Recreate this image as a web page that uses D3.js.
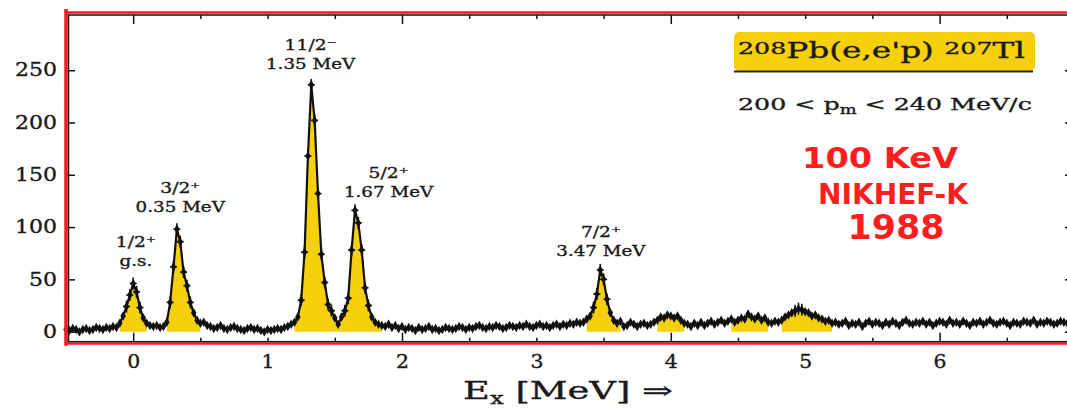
<!DOCTYPE html>
<html lang="en">
<head>
<meta charset="utf-8">
<title>208Pb(e,e'p) 207Tl</title>
<script src="https://d3js.org/d3.v7.min.js"></script>
<style>
  html, body { margin: 0; padding: 0; background: #fff; }
  svg { display: block; }
  .tick text { font-family: "DejaVu Serif", serif; font-size: 18px; fill: #1a1a1a; stroke: #1a1a1a; stroke-width: 0.35; }
  .tick line { stroke: #111; stroke-width: 1.5; }
  .lab { font-family: "DejaVu Serif", serif; fill: #1a1a1a; stroke: #1a1a1a; stroke-width: 0.35; }
  .hand { font-family: "DejaVu Sans", sans-serif; font-weight: bold; fill: #ff1e1e; }
</style>
</head>
<body>
<script>
// counts per 25 keV bin, first bin centred at -0.5 MeV
const eStart = -0.5;
const eStep = 0.025;
const counts = [
  2, 1, 3, 2, 0, 2, 3, 1, 2, 4, 3, 2, 4, 3, 5, 4,                       // -0.5 .. -0.125
  8, 15, 24, 35, 46, 38, 23, 13, 8, 6, 5, 6, 4, 5, 9, 28, 62, 98, 86, 57,
  44, 28, 18, 11, 8, 9, 6,                                               // -0.1 .. 0.55
  5, 3, 4, 6, 3, 2, 4, 5, 3, 2, 1, 3, 4, 2, 3, 1, 0, 2, 1, 2, 3, 2, 4, 5, 7, // 0.575 .. 1.175
  9, 14, 30, 76, 168, 236, 202, 132, 74, 47, 26, 20, 13, 7, 14, 20, 32, 78,
  116, 104, 78, 42, 25, 14, 9, 7, 6,                                     // 1.2 .. 1.85
  5, 7, 4, 6, 3, 5, 2, 4, 3, 1, 4, 2, 3, 5, 2, 3, 1, 2, 4, 3,
  2, 3, 5, 4, 2, 4, 3, 5, 6, 4, 3, 5, 4, 6, 5, 3, 4, 6, 5,               // 1.875 .. 2.825
  4, 6, 5, 7, 5, 4, 6, 7, 5, 6, 4, 6, 7, 5, 7, 6,                        // 2.85 .. 3.225
  8, 7, 9, 8, 9, 12, 15, 23, 36, 59, 50, 31, 18, 11, 8, 10, 5, 6, 9, 7,
  5, 7, 8, 6, 7, 9, 11, 14, 13, 16, 15, 13, 15, 11, 8,                   // 3.25 .. 4.1
  7, 5, 8, 6, 9, 6, 8, 10, 7, 9, 11, 8, 10, 12, 9, 11, 13, 12, 17, 14,
  12, 15, 11, 13, 9, 8, 10, 9, 11, 14, 16, 18, 20, 22, 21, 19, 18, 15, 16, 13,
  12, 10, 11, 8,                                                         // 4.125 .. 5.2
  9, 7, 8, 10, 6, 8, 7, 9, 5, 8, 10, 7, 9, 8, 6, 9, 7, 10, 8, 6,
  9, 11, 8, 7, 9, 8, 10, 7, 9, 6, 8, 10, 9, 7, 11, 8, 9, 7, 10, 8,
  6, 9, 8, 10, 7, 9, 11, 8, 7, 9, 10, 8, 6, 9, 8, 7, 10, 9, 8, 11,
  7, 9, 8, 10, 9, 7, 8, 10, 9, 8, 9, 10                                  // 5.225 .. 7.0
];

// energy ranges of the fitted (yellow) components
const peakWindows = [[-0.1, 0.1], [0.25, 0.5], [1.2, 1.5], [1.5, 1.85], [3.375, 3.625],
                     [3.9, 4.1], [4.45, 4.725], [4.825, 5.2]];

// state annotations
const spinLabels = ["1/2\u207A", "3/2\u207A", "11/2\u207B", "5/2\u207A", "7/2\u207A"];
const energyLabels = ["g.s.", "0.35 MeV", "1.35 MeV", "1.67 MeV", "3.47 MeV"];
const labelE = [0.02, 0.35, 1.32, 1.9, 3.48];
const labelCount = [81, 132.5, 269, 147, 90.5];

const xTickValues = [-0.5, 0, 0.5, 1, 1.5, 2, 2.5, 3, 3.5, 4, 4.5, 5, 5.5, 6, 6.5, 7];
const yTickValues = [0, 50, 100, 150, 200, 250];

const W = 1067, H = 408;
const svg = d3.select("body").append("svg").attr("width", W).attr("height", H);

const x = d3.scaleLinear().domain([-0.5, 7.0]).range([66, 1074]);
const y = d3.scaleLinear().domain([-9.6, 302.8]).range([341.7, 15]);

const data = counts.map((c, i) => ({ e: eStart + i * eStep, c: c }));

// yellow components
const area = d3.area().x(d => x(d.e)).y0(y(0)).y1(d => y(d.c));
peakWindows.forEach(([a, b]) => {
  const part = data.filter(d => d.e >= a - 1e-6 && d.e <= b + 1e-6);
  svg.append("path").datum(part).attr("d", area)
    .attr("fill", "#f6d00c").attr("stroke", "none");
});

// data line + points
const line = d3.line().x(d => x(d.e)).y(d => y(d.c));
svg.append("path").datum(data).attr("d", line)
  .attr("fill", "none").attr("stroke", "#111").attr("stroke-width", 2.2);

const errs = svg.append("g").attr("stroke", "#111").attr("stroke-width", 1.6);
data.filter(d => d.c >= 20).forEach(d => {
  errs.append("line").attr("x1", x(d.e)).attr("x2", x(d.e))
    .attr("y1", y(d.c) - 6).attr("y2", y(d.c) + 6);
  errs.append("line").attr("x1", x(d.e) - 3.5).attr("x2", x(d.e) + 3.5)
    .attr("y1", y(d.c)).attr("y2", y(d.c));
});
svg.append("g").selectAll("path").data(data).join("path")
  .attr("transform", d => `translate(${x(d.e)},${y(d.c)})`)
  .attr("d", d3.symbol(d3.symbolDiamond).size(26))
  .attr("fill", "#111");

// axes (ticks point inwards)
const isEven = d => Number.isInteger(d) && d % 2 === 0;
const gb = svg.append("g").attr("transform", `translate(0,${y.range()[0]})`)
  .call(d3.axisBottom(x).tickValues(xTickValues).tickSize(-4).tickPadding(14)
    .tickFormat(d => (Number.isInteger(d) && d >= 0 && d < 7) ? d : ""));
gb.selectAll(".tick line").attr("y2", d => isEven(d) ? -9 : -4);
gb.selectAll(".tick text").filter(function () { return this.textContent !== ""; })
  .attr("textLength", function () { return 13 * this.textContent.length; })
  .attr("lengthAdjust", "spacingAndGlyphs");

const gt = svg.append("g").attr("transform", `translate(0,${y.range()[1]})`)
  .call(d3.axisTop(x).tickValues(xTickValues).tickSize(-4).tickFormat(""));
gt.selectAll(".tick line").attr("y2", d => isEven(d) ? 9 : 4);

const gl = svg.append("g").attr("transform", `translate(${x.range()[0]},0)`)
  .call(d3.axisLeft(y).tickValues(yTickValues).tickSize(-9).tickPadding(9));
gl.selectAll(".tick text")
  .attr("textLength", function () { return 14 * this.textContent.length; })
  .attr("lengthAdjust", "spacingAndGlyphs");

svg.append("g").attr("transform", `translate(${x.range()[1]},0)`)
  .call(d3.axisRight(y).tickValues(yTickValues).tickSize(-9).tickFormat(""));

svg.selectAll(".domain").remove();

// frame: black box with red marker over it
const [fx0, fx1] = x.range();
const [fy1, fy0] = y.range();
svg.append("rect").attr("x", fx0 + 2.5).attr("y", fy0).attr("width", fx1 - fx0).attr("height", fy1 - fy0)
  .attr("fill", "none").attr("stroke", "#111").attr("stroke-width", 1.5);
svg.append("line").attr("x1", fx0).attr("x2", fx0).attr("y1", fy0 - 6).attr("y2", fy1 + 4)
  .attr("stroke", "#ec1c24").attr("stroke-width", 3.5);
svg.append("line").attr("x1", fx0 - 1).attr("x2", W).attr("y1", fy0 - 2.5).attr("y2", fy0 - 2.5)
  .attr("stroke", "#ec1c24").attr("stroke-width", 2.5);
svg.append("line").attr("x1", fx0 - 1).attr("x2", W).attr("y1", fy1 + 1.8).attr("y2", fy1 + 1.8)
  .attr("stroke", "#ec1c24").attr("stroke-width", 2.5);

// text helper: horizontal stretch either to a width or by a factor
function addText(px, py, anchor, cls, size, opt, build) {
  const t = svg.append("text").attr("class", cls).attr("text-anchor", anchor)
    .style("font-size", size + "px");
  build(t);
  const len = t.node().getComputedTextLength();
  const s = opt.w ? opt.w / len : opt.sx;
  t.attr("transform", `translate(${px},${py}) scale(${s},1)`);
  return t;
}

// state labels
spinLabels.forEach((s, i) => {
  addText(x(labelE[i]), y(labelCount[i]), "middle", "lab", 15, { sx: 1.25 }, t => t.text(s));
  addText(x(labelE[i]), y(labelCount[i]) + 19, "middle", "lab", 15, { sx: 1.22 }, t => t.text(energyLabels[i]));
});

// reaction box
svg.append("rect").attr("x", 734).attr("y", 32).attr("width", 301).attr("height", 39)
  .attr("rx", 5).attr("fill", "#f6d00c");
svg.append("line").attr("x1", 734).attr("x2", 1033).attr("y1", 71.5).attr("y2", 71.5)
  .attr("stroke", "#20203c").attr("stroke-width", 2);
addText(738, 58, "start", "lab", 22, { w: 287 }, t => {
  t.append("tspan").text("208").style("font-size", "17px").attr("dy", -4);
  t.append("tspan").text("Pb(e,e'p) ").attr("dy", 4);
  t.append("tspan").text("207").style("font-size", "17px").attr("dy", -4);
  t.append("tspan").text("Tl").attr("dy", 4);
});

addText(738, 110, "start", "lab", 17, { w: 294 }, t => {
  t.append("tspan").text("200 < p");
  t.append("tspan").text("m").style("font-size", "12px").attr("dy", 4);
  t.append("tspan").text(" < 240 MeV/c").attr("dy", -4);
});

// handwritten notes
addText(880, 168, "middle", "hand", 28, { w: 156 }, t => t.text("100 KeV"));
addText(893, 204, "middle", "hand", 29, { w: 150 }, t => t.text("NIKHEF-K"));
addText(896, 239, "middle", "hand", 34, { w: 97 }, t => t.text("1988"));

// axis title
addText(463, 399, "start", "lab", 24, { w: 210 }, t => {
  t.append("tspan").text("E");
  t.append("tspan").text("x").style("font-size", "16px").attr("dy", 5);
  t.append("tspan").text(" [MeV] \u21D2").attr("dy", -5);
});
</script>
</body>
</html>
